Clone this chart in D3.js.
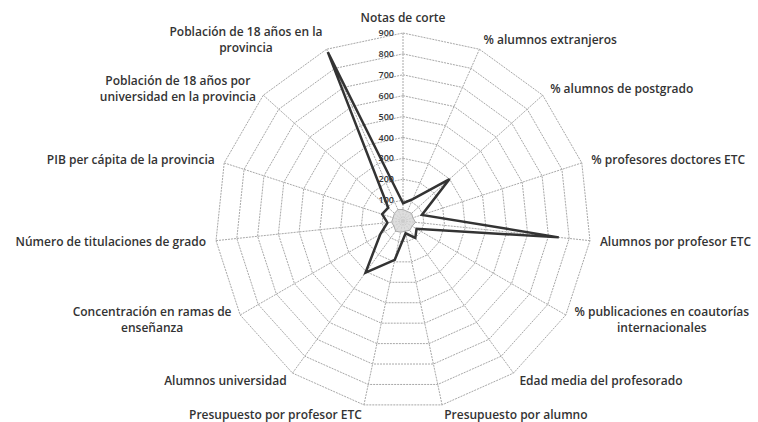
<!DOCTYPE html>
<html>
<head>
<meta charset="utf-8">
<script src="https://cdn.jsdelivr.net/npm/d3@7"></script>
<style>
  body { margin: 0; background: #fff; }
  svg text { font-family: "Open Sans", sans-serif; fill: #333; }
</style>
</head>
<body>
<svg class="chart" width="758" height="422"></svg>
<script>
// axis labels, clockwise from the top
var categories = [
    ["Notas de corte"],
    ["% alumnos extranjeros"],
    ["% alumnos de postgrado"],
    ["% profesores doctores ETC"],
    ["Alumnos por profesor ETC"],
    ["% publicaciones en coautorías", "internacionales"],
    ["Edad media del profesorado"],
    ["Presupuesto por alumno"],
    ["Presupuesto por profesor ETC"],
    ["Alumnos universidad"],
    ["Concentración en ramas de", "enseñanza"],
    ["Número de titulaciones de grado"],
    ["PIB per cápita de la provincia"],
    ["Población de 18 años por", "universidad en la provincia"],
    ["Población de 18 años en la", "provincia"]
];

var mainValues = [85, 115, 300, 95, 750, 75, 100, 60, 190, 305, 125, 75, 105, 95, 885];
var innerValues = [55, 50, 55, 50, 60, 50, 55, 50, 55, 60, 50, 55, 50, 55, 60];

var tickValues = [100, 200, 300, 400, 500, 600, 700, 800, 900];

var cx = 403, cy = 221, radius = 188;
var n = categories.length;

var svg = d3.select(".chart");
var chart = svg.append("g")
    .attr("transform", "translate(" + cx + "," + cy + ")");

var rScale = d3.scaleLinear()
    .domain([0, 900])
    .range([0, radius]);

var angle = d3.scaleLinear()
    .domain([0, n])
    .range([0, 2 * Math.PI]);

function px(i, v){ return rScale(v) * Math.sin(angle(i)); }
function py(i, v){ return -rScale(v) * Math.cos(angle(i)); }

var ring = d3.lineRadial()
    .angle(function(d, i){ return angle(i); })
    .radius(function(d){ return rScale(d); })
    .curve(d3.curveLinearClosed);

// grid rings
chart.selectAll(".ring")
    .data(tickValues)
    .enter()
    .append("path")
    .attr("class", "ring")
    .attr("d", function(t){ return ring(d3.range(n).map(function(){ return t; })); })
    .attr("fill", "none")
    .attr("stroke", "#a8a8a8")
    .attr("stroke-width", 1)
    .attr("stroke-dasharray", "2,1");

// spokes
chart.selectAll(".spoke")
    .data(d3.range(n))
    .enter()
    .append("line")
    .attr("class", "spoke")
    .attr("x1", 0)
    .attr("y1", 0)
    .attr("x2", function(i){ return px(i, 900); })
    .attr("y2", function(i){ return py(i, 900); })
    .attr("stroke", "#a8a8a8")
    .attr("stroke-width", 1)
    .attr("stroke-dasharray", "2,1");

// inner series
chart.append("path")
    .attr("d", ring(innerValues))
    .attr("fill", "#d4d4d4")
    .attr("fill-opacity", 0.8)
    .attr("stroke", "#aaa")
    .attr("stroke-width", 1);

// main series
chart.append("path")
    .attr("d", ring(mainValues))
    .attr("fill", "none")
    .attr("stroke", "#333")
    .attr("stroke-width", 2.5)
    .attr("stroke-linejoin", "miter");

// tick labels on the first axis
chart.selectAll(".tick")
    .data(tickValues)
    .enter()
    .append("text")
    .attr("class", "tick")
    .attr("x", -9)
    .attr("y", function(t){ return -rScale(t); })
    .attr("dy", "0.35em")
    .attr("text-anchor", "end")
    .style("font-size", "9px")
    .style("font-weight", 600)
    .text(function(t){ return t; });

// category labels
var pad = 10;
var labels = chart.selectAll(".label")
    .data(categories)
    .enter()
    .append("g")
    .attr("class", "label");

labels.each(function(lines, i){
    var g = d3.select(this);
    var s = Math.sin(angle(i)), c = Math.cos(angle(i));
    var x = px(i, 900) + s * pad;
    var y = py(i, 900) - c * pad;
    if (i === 0) y -= 5;
    var lineH = 16;
    var texts = g.selectAll("text")
        .data(lines)
        .enter()
        .append("text")
        .style("font-size", "12px")
        .style("font-weight", 600)
        .attr("text-anchor", "middle")
        .attr("dy", "0.35em")
        .text(function(d){ return d; });
    var w = 0;
    texts.each(function(){ w = Math.max(w, this.getComputedTextLength()); });
    var mx = x;
    if (s > 0.1) mx = x + w / 2;
    else if (s < -0.1) mx = x - w / 2;
    var top = y - (lines.length - 1) * lineH / 2;
    texts.attr("x", mx)
        .attr("y", function(d, k){ return top + k * lineH; });
});
</script>
</body>
</html>
